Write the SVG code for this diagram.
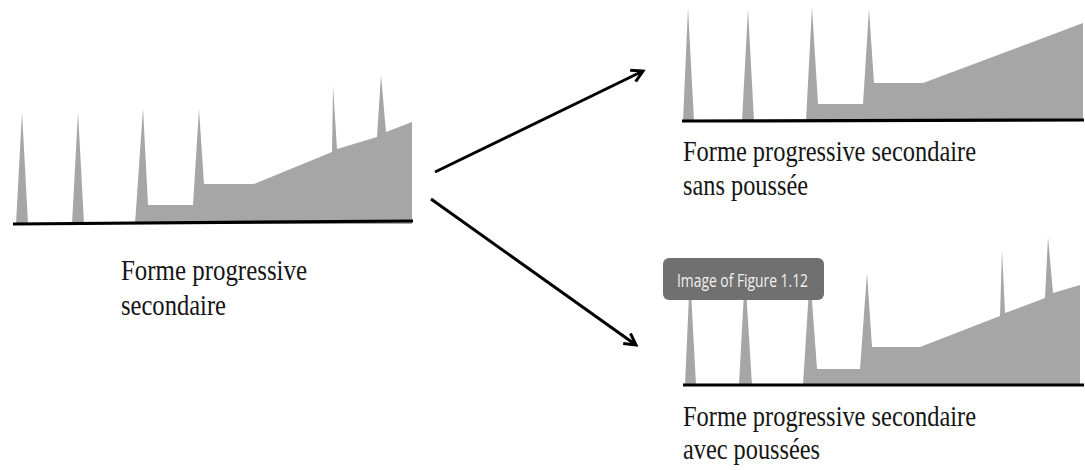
<svg xmlns="http://www.w3.org/2000/svg" width="1085" height="470" viewBox="0 0 1085 470">
  <defs>
    <marker id="head" viewBox="0 0 12 12" refX="10" refY="6" markerWidth="5" markerHeight="5" markerUnits="strokeWidth" orient="auto">
      <path d="M1,1 L10,6 L1,11" fill="none" stroke="#000" stroke-width="2.4" stroke-linejoin="miter"/>
    </marker>
  </defs>
  <style>
    .profile { fill: #a6a6a6; stroke: none; }
    .ground { stroke: #000; stroke-width: 3.2; fill: none; }
    .label { font-family: "Liberation Serif", "Times New Roman", serif; font-size: 30px; fill: #151515; }
    .conn { stroke: #000; stroke-width: 3; fill: none; }
    .tip-box { fill: #707070; }
    .tip-text { font-family: "Open Sans", "Noto Sans", sans-serif; font-size: 18px; fill: #f2f2f2; }
  </style>

  <rect width="1085" height="470" fill="#fff"/>

  <!-- Initial profile: spikes then a plateau and a rising slope -->
  <g id="node-initial">
    <path class="profile" d="M16,224 L22,112 L28,224 Z"/>
    <path class="profile" d="M72,224 L78,112 L84,224 Z"/>
    <path class="profile" d="M135,224 L143,108 L148,205 L193,205 L199,109 L204,184 L254,184 L332,152 L333,86 L337,149 L377,137 L381,75 L386,132 L412,122 L412,224 Z"/>
    <line class="ground" x1="13" y1="224" x2="413" y2="221"/>
    <text class="label" x="121" y="280" textLength="186" lengthAdjust="spacingAndGlyphs">Forme progressive</text>
    <text class="label" x="121" y="315" textLength="105" lengthAdjust="spacingAndGlyphs">secondaire</text>
  </g>

  <!-- Outcome without thrusts -->
  <g id="node-sans">
    <path class="profile" d="M683,121 L688,8 L694,121 Z"/>
    <path class="profile" d="M742,121 L748,9 L754,121 Z"/>
    <path class="profile" d="M806,121 L812,7 L818,104 L863,104 L869,9 L874,83 L923,83 L1083,23 L1083,121 Z"/>
    <line class="ground" x1="682" y1="121" x2="1084" y2="120"/>
    <text class="label" x="683" y="161" textLength="293" lengthAdjust="spacingAndGlyphs">Forme progressive secondaire</text>
    <text class="label" x="683" y="195" textLength="125" lengthAdjust="spacingAndGlyphs">sans poussée</text>
  </g>

  <!-- Outcome with thrusts -->
  <g id="node-avec">
    <path class="profile" d="M685,385 L690,273 L696,385 Z"/>
    <path class="profile" d="M739,385 L745,273 L752,385 Z"/>
    <path class="profile" d="M803,385 L810,273 L817,369 L860,369 L867,273 L872,347 L920,347 L1000,316 L1002,250 L1005,313 L1045,298 L1048,237 L1053,293 L1080,285 L1080,385 Z"/>
    <line class="ground" x1="683" y1="385" x2="1084" y2="385"/>
    <text class="label" x="683" y="426" textLength="293" lengthAdjust="spacingAndGlyphs">Forme progressive secondaire</text>
    <text class="label" x="683" y="459" textLength="137" lengthAdjust="spacingAndGlyphs">avec poussées</text>
  </g>

  <!-- Caption badge -->
  <g id="node-badge">
    <rect class="tip-box" x="663" y="258" width="161" height="42" rx="6"/>
    <text class="tip-text" x="677" y="287" textLength="131" lengthAdjust="spacingAndGlyphs">Image of Figure 1.12</text>
  </g>

  <g id="connectors">
    <line class="conn" x1="435" y1="172" x2="643" y2="71" marker-end="url(#head)"/>
    <line class="conn" x1="431" y1="199" x2="636" y2="345" marker-end="url(#head)"/>
  </g>
</svg>
